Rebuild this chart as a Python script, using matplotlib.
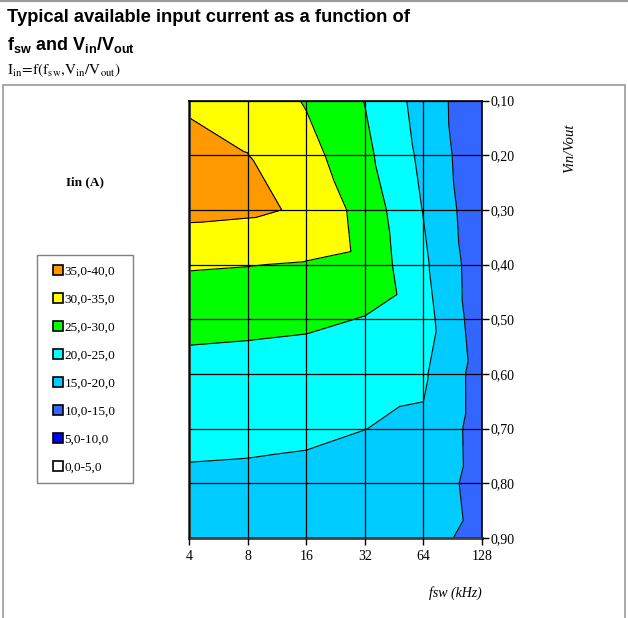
import numpy as np
import matplotlib.pyplot as plt
import matplotlib.tri as mtri
from matplotlib.lines import Line2D
from matplotlib.patches import Rectangle

# switching frequency (kHz) and input/output voltage ratio
fsw = [4, 8, 16, 32, 64, 128]
vin_vout = [0.10, 0.20, 0.30, 0.40, 0.50, 0.60, 0.70, 0.80, 0.90]

# available input current (A), one row per Vin/Vout value
iin_010 = [34.00, 33.50, 29.60, 24.88, 18.06, 10.86]
iin_020 = [37.20, 35.07, 31.80, 26.17, 18.87, 10.97]
iin_030 = [36.40, 35.86, 34.38, 28.03, 19.83, 11.36]
iin_040 = [30.42, 30.14, 29.69, 28.63, 20.91, 11.82]
iin_050 = [26.84, 26.51, 26.05, 24.77, 22.00, 12.00]
iin_060 = [22.97, 22.64, 22.16, 20.88, 20.62, 12.81]
iin_070 = [20.75, 20.66, 20.49, 20.03, 19.40, 12.83]
iin_080 = [19.53, 19.44, 19.25, 18.78, 18.20, 12.95]
iin_090 = [18.60, 18.50, 18.30, 17.80, 16.57, 13.49]

bands = [0, 5, 10, 15, 20, 25, 30, 35, 40]
band_colors = ["#FFFFFF", "#0000FF", "#3366FF", "#00CCFF",
               "#00FFFF", "#00FF00", "#FFFF00", "#FF9900"]

serif = "Liberation Serif"
sans = "Liberation Sans"
plt.rcParams["mathtext.bf"] = "Liberation Sans:bold"
plt.rcParams["mathtext.rm"] = "Liberation Sans"

iin = np.array([iin_010, iin_020, iin_030, iin_040, iin_050,
                iin_060, iin_070, iin_080, iin_090])

# evenly spaced frequency categories (log2 axis)
xpos = np.log2(fsw)
X, Y = np.meshgrid(xpos, vin_vout)
nx, ny = len(fsw), len(vin_vout)

# split each cell in two triangles along its top-left / bottom-right diagonal
triangles = []
for j in range(ny - 1):
    for i in range(nx - 1):
        k = j * nx + i
        triangles.append([k, k + 1, k + nx + 1])
        triangles.append([k, k + nx + 1, k + nx])
tri = mtri.Triangulation(X.ravel(), Y.ravel(), triangles)

fig = plt.figure(figsize=(6.28, 6.18), dpi=100)

# outer chart frame and top rule
fig.add_artist(Rectangle((3 / 628, -0.01), 622 / 628, 1 - 85 / 618 + 0.01,
                         transform=fig.transFigure, fill=False,
                         edgecolor="#9a9a9a", linewidth=1.2))
fig.add_artist(Line2D([0, 1], [1 - 1 / 618, 1 - 1 / 618], transform=fig.transFigure,
                      color="#9a9a9a", linewidth=1.5))

# titles
fig.text(7 / 628, 1 - 17 / 618, "Typical available input current as a function of",
         family=sans, fontweight="bold", fontsize=13.2, va="center", ha="left")
fig.text(7 / 628, 1 - 45 / 618,
         r"$\mathbf{f_{sw}}$ and $\mathbf{V_{in}/V_{out}}$",
         family=sans, fontweight="bold", fontsize=13, va="center", ha="left",
         math_fontfamily="custom")
fig.text(7 / 628, 1 - 70 / 618,
         r"$\mathrm{I_{in}\!=\!f(f_{sw}{,}V_{in}/V_{out})}$",
         fontsize=11, va="center", ha="left", math_fontfamily="stix")

ax = fig.add_axes([189 / 628, 1 - 538 / 618, 293 / 628, 437.5 / 618])
ax.tricontourf(tri, iin.ravel(), levels=bands, colors=band_colors)
ax.tricontour(tri, iin.ravel(), levels=bands, colors="black", linewidths=0.8)

ax.set_xlim(xpos[0], xpos[-1])
ax.set_ylim(vin_vout[-1], vin_vout[0])
ax.set_xticks(xpos)
ax.set_xticklabels([str(f) for f in fsw], family=serif, fontsize=10)
ax.yaxis.tick_right()
ax.set_yticks(vin_vout)
ax.set_yticklabels([f"{v:.2f}".replace(".", ",") for v in vin_vout],
                   family=serif, fontsize=10)
ax.tick_params(axis="both", direction="out", length=5, width=1, colors="black")
ax.tick_params(axis="y", pad=1)
ax.tick_params(axis="x", pad=4)

ax.grid(True, color="black", linewidth=0.9)
ax.set_axisbelow(False)
for side in ["left", "bottom"]:
    ax.spines[side].set_color("#404040")
    ax.spines[side].set_linewidth(2)
ax.spines["top"].set_linewidth(1.2)
ax.spines["right"].set_linewidth(1.2)

fig.text(570 / 628, 1 - 148 / 618, "Vin/Vout", family=serif, style="italic",
         fontsize=10.5, rotation=90, ha="center", va="center")
fig.text(455 / 628, 1 - 593 / 618, "fsw (kHz)", family=serif, style="italic",
         fontsize=10, ha="center", va="center")
fig.text(85 / 628, 1 - 182 / 618, "Iin (A)", family=serif, fontweight="bold",
         fontsize=9.5, ha="center", va="center")

# legend, highest band first
handles = []
labels = []
for lo, hi, c in reversed(list(zip(bands[:-1], bands[1:], band_colors))):
    handles.append(Line2D([], [], marker="s", linestyle="none", markersize=6.5,
                          markerfacecolor=c, markeredgecolor="black",
                          markeredgewidth=1.2))
    labels.append(f"{lo:.1f}-{hi:.1f}".replace(".", ","))
fig.add_artist(Rectangle((37 / 628, 1 - 483 / 618), 96 / 628, 228 / 618,
                         transform=fig.transFigure, fill=False,
                         edgecolor="#808080", linewidth=1))
fig.legend(handles, labels, loc="upper left", bbox_to_anchor=(52 / 628, 1 - 265 / 618),
           frameon=False, borderpad=0, borderaxespad=0, handlelength=0.9,
           handletextpad=0.05, labelspacing=1.2, prop={"family": serif, "size": 9.5})

fig.savefig("out.png", dpi=100)
